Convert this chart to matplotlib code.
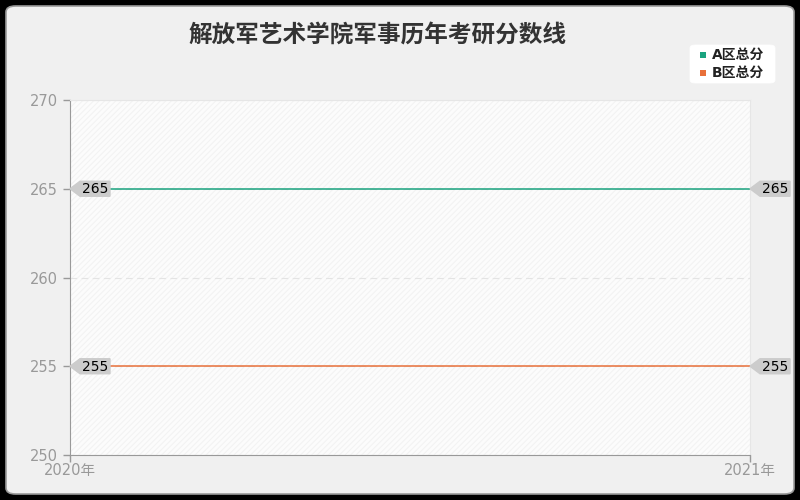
import matplotlib.pyplot as plt
import matplotlib.transforms as mtransforms
from matplotlib.patches import FancyBboxPatch, Polygon, Rectangle

plt.rcParams['font.family'] = ['DejaVu Sans', 'Noto Sans CJK SC']

TITLE = "解放军艺术学院军事历年考研分数线"
years = ["2020年", "2021年"]
series_names = ["A区总分", "B区总分"]
series_values = [[265, 265], [255, 255]]
series_colors = ["#1aa37f", "#e8703a"]
y_ticks = [250, 255, 260, 265, 270]

fig = plt.figure(figsize=(8, 5), dpi=100)
fig.patch.set_facecolor("black")

# rounded chart card
card = FancyBboxPatch((6 / 800, 6 / 500), 788 / 800, 488 / 500,
                      boxstyle="round,pad=0,rounding_size=0.012",
                      transform=fig.transFigure, facecolor="#f0f0f0",
                      edgecolor="#9a9a9a", linewidth=1.2, zorder=-10)
fig.patches.append(card)

ax = fig.add_axes([70 / 800, 45 / 500, 680 / 800, 355 / 500])
ax.set_facecolor("white")

# faint diagonal hatching over the plot area
plt.rcParams['hatch.linewidth'] = 0.8
hatch = Rectangle((0, 0), 1, 1, transform=ax.transAxes, facecolor="#fcfcfc",
                  edgecolor="#f3f3f3", hatch="//////", linewidth=0, zorder=0)
ax.add_patch(hatch)

x = list(range(len(years)))
for vals, col in zip(series_values, series_colors):
    ax.plot(x, vals, color=col, linewidth=1.1, zorder=3)

ax.set_xlim(0, len(years) - 1)
ax.set_ylim(y_ticks[0], y_ticks[-1])
ax.set_yticks(y_ticks)
ax.set_xticks(x)
ax.set_xticklabels(years)
ax.tick_params(axis="both", colors="#999999", labelsize=10.5, length=5, width=1)
ax.tick_params(axis="x", pad=1)
for lbl in ax.get_xticklabels() + ax.get_yticklabels():
    lbl.set_color("#999999")
ax.grid(axis="y", color="#e4e4e4", linestyle=(0, (6, 4)), linewidth=0.8)
ax.set_axisbelow(True)

for side in ["left", "bottom"]:
    ax.spines[side].set_color("#999999")
for side in ["top", "right"]:
    ax.spines[side].set_color("#e6e6e6")

# value callouts at both ends
def callout(xd, yd):
    tr = fig.dpi_scale_trans + mtransforms.ScaledTranslation(xd, yd, ax.transData)
    pts = [(0, 0), (0.1, 0.075), (0.4, 0.075), (0.4, -0.075), (0.1, -0.075)]
    poly = Polygon(pts, closed=True, transform=tr, facecolor="#cccccc",
                   edgecolor="#cccccc", clip_on=False, zorder=5)
    ax.add_patch(poly)
    ax.text(0.255, -0.005, str(yd), transform=tr, ha="center", va="center",
            fontsize=10, fontweight="medium", color="black", clip_on=False,
            zorder=6)

for vals in series_values:
    for xi, v in zip(x, vals):
        callout(xi, v)

fig.text(378 / 800, 1 - 36 / 500, TITLE, ha="center", va="center",
         fontsize=17, fontweight="bold", color="#333333",
         family=["Noto Sans CJK SC"])

# legend box
leg_box = FancyBboxPatch((690 / 800, 1 - 83 / 500), 85 / 800, 38 / 500,
                         boxstyle="round,pad=0,rounding_size=0.006",
                         transform=fig.transFigure, facecolor="white",
                         edgecolor="white", linewidth=0.5)
fig.patches.append(leg_box)
for i, (name, col) in enumerate(zip(series_names, series_colors)):
    yy = 1 - (55 + 18 * i) / 500
    fig.patches.append(Rectangle((700 / 800, yy - 3 / 500), 6 / 800, 6 / 500,
                                 transform=fig.transFigure, facecolor=col,
                                 edgecolor="none"))
    fig.text(712 / 800, yy, name, ha="left", va="center", fontsize=10,
             fontweight="bold", color="#222222",
             family=["DejaVu Sans", "Noto Sans CJK SC"])

fig.savefig("out.png", dpi=100, facecolor=fig.get_facecolor())
